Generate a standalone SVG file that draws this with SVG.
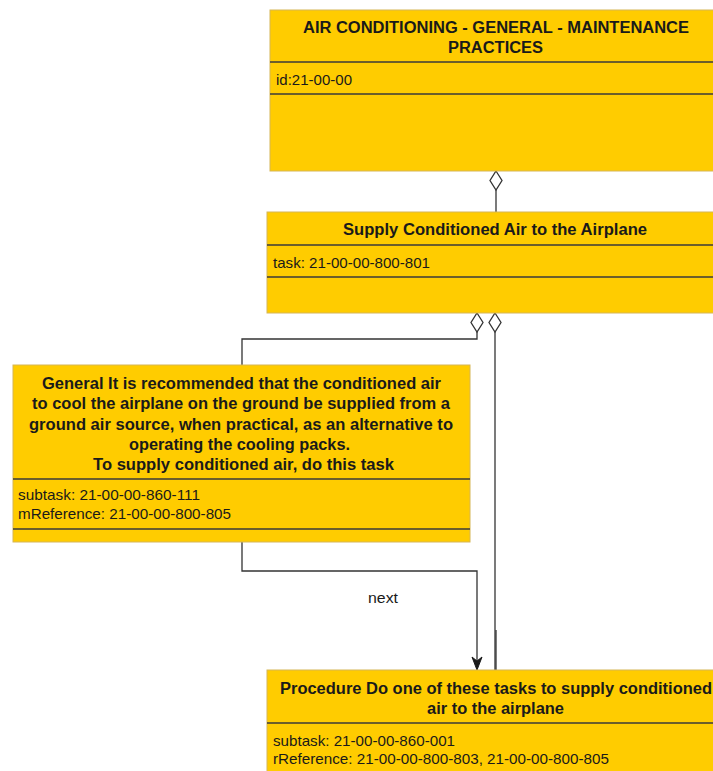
<svg xmlns="http://www.w3.org/2000/svg" width="713" height="771" viewBox="0 0 713 771">
  <style>
    .box { fill: #FFCC00; stroke: #D6B656; stroke-width: 1; }
    .sep { stroke: #3a3a3a; stroke-width: 1.3; }
    .title { font-family: "Liberation Sans", Arial, sans-serif; font-size: 16px; font-weight: bold; fill: #1a1a1a; text-anchor: middle; }
    .body { font-family: "Liberation Sans", Arial, sans-serif; font-size: 15px; fill: #1a1a1a; }
    .label { font-family: "Liberation Sans", Arial, sans-serif; font-size: 15px; fill: #1a1a1a; }
    .edge { fill: none; stroke: #333333; stroke-width: 1.3; }
    .agg { fill: #ffffff; stroke: #333333; stroke-width: 1.3; }
  </style>
  <defs>
    <marker id="arrow" markerWidth="12" markerHeight="14" viewBox="0 0 12 14" refX="6" refY="13" orient="auto-start-reverse" markerUnits="userSpaceOnUse">
      <path d="M6,13 L1,1 L6,4 L11,1 Z" fill="#1a1a1a"/>
    </marker>
  </defs>
  <rect width="713" height="771" fill="#ffffff"/>

  <!-- connectors -->
  <g id="connectors">
    <!-- section to task aggregation -->
    <line class="edge" x1="496" y1="190" x2="496" y2="212"/>
    <path class="agg" d="M496,171 L502,180.5 L496,190 L490,180.5 Z"/>
    <!-- task to general subtask -->
    <path class="edge" d="M477,332 L477,339 L242,339 L242,365"/>
    <path class="agg" d="M477,313 L483,322.5 L477,332 L471,322.5 Z"/>
    <!-- task to procedure subtask -->
    <line class="edge" x1="495" y1="332" x2="495" y2="670"/>
    <line class="edge" x1="496" y1="630" x2="496" y2="670"/>
    <path class="agg" d="M495,313 L501,322.5 L495,332 L489,322.5 Z"/>
    <!-- next -->
    <path class="edge" d="M242,542 L242,571 L477,571 L477,660"/>
    <path d="M477,670 L472,657 L477,661 L482,657 Z" fill="#1a1a1a" stroke="#1a1a1a" stroke-width="1"/>
    <text class="label" x="368" y="603" textLength="30" lengthAdjust="spacingAndGlyphs">next</text>
  </g>

  <!-- section node -->
  <g id="section">
    <rect class="box" x="270" y="10" width="455" height="161"/>
    <line class="sep" x1="270" y1="62" x2="725" y2="62"/>
    <line class="sep" x1="270" y1="94" x2="725" y2="94"/>
    <text class="title" x="496" y="33" textLength="386" lengthAdjust="spacingAndGlyphs">AIR CONDITIONING - GENERAL - MAINTENANCE</text>
    <text class="title" x="495.5" y="53" textLength="95" lengthAdjust="spacingAndGlyphs">PRACTICES</text>
    <text class="body" x="276" y="85" textLength="76" lengthAdjust="spacingAndGlyphs">id:21-00-00</text>
  </g>

  <!-- task node -->
  <g id="task">
    <rect class="box" x="267" y="212" width="458" height="101"/>
    <line class="sep" x1="267" y1="245" x2="725" y2="245"/>
    <line class="sep" x1="267" y1="277" x2="725" y2="277"/>
    <text class="title" x="495" y="235" textLength="304" lengthAdjust="spacingAndGlyphs">Supply Conditioned Air to the Airplane</text>
    <text class="body" x="273" y="268" textLength="157" lengthAdjust="spacingAndGlyphs">task: 21-00-00-800-801</text>
  </g>

  <!-- general subtask node -->
  <g id="general">
    <rect class="box" x="13" y="365" width="457" height="177"/>
    <line class="sep" x1="13" y1="479" x2="470" y2="479"/>
    <line class="sep" x1="13" y1="529" x2="470" y2="529"/>
    <text class="title" x="241.5" y="389" textLength="399" lengthAdjust="spacingAndGlyphs">General It is recommended that the conditioned air</text>
    <text class="title" x="241" y="409" textLength="418" lengthAdjust="spacingAndGlyphs">to cool the airplane on the ground be supplied from a</text>
    <text class="title" x="241" y="429.5" textLength="424" lengthAdjust="spacingAndGlyphs">ground air source, when practical, as an alternative to</text>
    <text class="title" x="239.5" y="450" textLength="221" lengthAdjust="spacingAndGlyphs">operating the cooling packs.</text>
    <text class="title" x="243.5" y="470" textLength="301" lengthAdjust="spacingAndGlyphs">To supply conditioned air, do this task</text>
    <text class="body" x="18" y="500" textLength="182" lengthAdjust="spacingAndGlyphs">subtask: 21-00-00-860-111</text>
    <text class="body" x="18" y="519" textLength="213" lengthAdjust="spacingAndGlyphs">mReference: 21-00-00-800-805</text>
  </g>

  <!-- procedure subtask node -->
  <g id="procedure">
    <rect class="box" x="267" y="670" width="458" height="120"/>
    <line class="sep" x1="267" y1="723" x2="725" y2="723"/>
    <text class="title" x="496" y="694" textLength="432" lengthAdjust="spacingAndGlyphs">Procedure Do one of these tasks to supply conditioned</text>
    <text class="title" x="495.5" y="714" textLength="137" lengthAdjust="spacingAndGlyphs">air to the airplane</text>
    <text class="body" x="273" y="746" textLength="182" lengthAdjust="spacingAndGlyphs">subtask: 21-00-00-860-001</text>
    <text class="body" x="273" y="764" textLength="336" lengthAdjust="spacingAndGlyphs">rReference: 21-00-00-800-803, 21-00-00-800-805</text>
  </g>
</svg>
